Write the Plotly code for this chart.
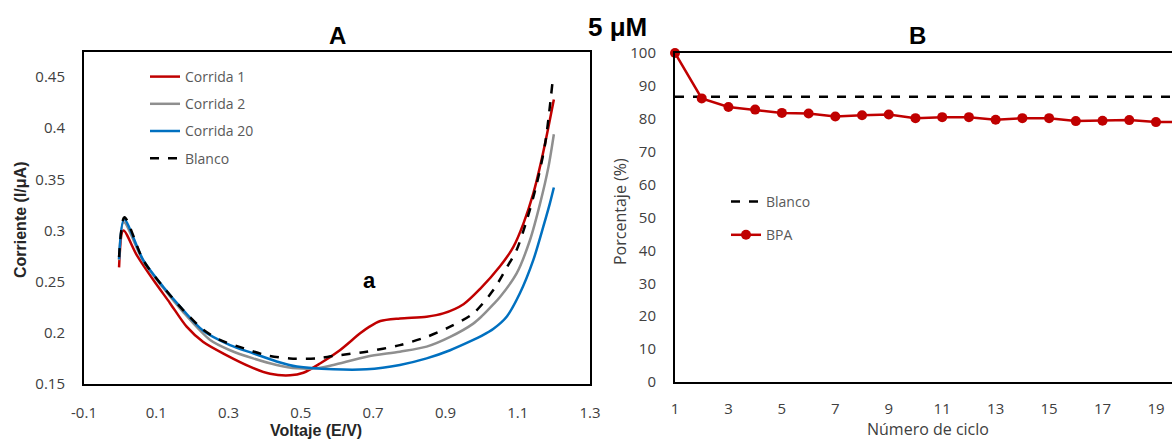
import plotly.graph_objects as go

# ---------------- Panel A data (Voltaje vs Corriente) ----------------
v_corrida1 = [-0.003, 0.009, 0.046, 0.092, 0.138, 0.184, 0.23, 0.295, 0.359, 0.415, 0.47, 0.507,
              0.553, 0.608, 0.664, 0.69, 0.72, 0.774, 0.848, 0.894, 0.95, 0.996, 1.051, 1.088, 1.116,
              1.143, 1.166, 1.185, 1.2]
i_corrida1 = [0.264, 0.300, 0.276, 0.2516, 0.229, 0.206, 0.191, 0.178, 0.167, 0.160, 0.1585, 0.161,
              0.170, 0.183, 0.1995, 0.206, 0.2115, 0.214, 0.2158, 0.219, 0.228, 0.243, 0.265, 0.284, 0.307,
              0.336, 0.369, 0.401, 0.428]

v_corrida2 = [-0.003, 0.010, 0.064, 0.119, 0.175, 0.249, 0.304, 0.368, 0.433, 0.489, 0.544, 0.59,
              0.682, 0.774, 0.848, 0.913, 0.977, 1.0, 1.033, 1.051, 1.097, 1.134, 1.162, 1.185, 1.2]
i_corrida2 = [0.271, 0.308, 0.270, 0.244, 0.220, 0.193, 0.183, 0.175, 0.1686, 0.1653, 0.1653, 0.1686,
              0.1767, 0.1816, 0.1865, 0.196, 0.209, 0.216, 0.228, 0.235, 0.258, 0.2907, 0.3265, 0.362, 0.394]

v_corrida20 = [-0.003, 0.011, 0.064, 0.119, 0.175, 0.23, 0.304, 0.368, 0.433, 0.489, 0.59, 0.682,
               0.774, 0.848, 0.913, 0.977, 1.0, 1.033, 1.07, 1.106, 1.143, 1.171, 1.189, 1.2]
i_corrida20 = [0.272, 0.311, 0.271, 0.245, 0.222, 0.202, 0.188, 0.180, 0.172, 0.167, 0.1643, 0.1643,
               0.1686, 0.175, 0.183, 0.193, 0.197, 0.204, 0.216, 0.2386, 0.271, 0.304, 0.3265, 0.342]

v_blanco = [-0.003, 0.012, 0.064, 0.119, 0.175, 0.23, 0.276, 0.341, 0.406, 0.47, 0.544, 0.59, 0.682,
            0.774, 0.848, 0.913, 0.977, 1.033, 1.07, 1.097, 1.125, 1.153, 1.176, 1.196]
i_blanco = [0.274, 0.313, 0.271, 0.245, 0.222, 0.203, 0.193, 0.185, 0.178, 0.175, 0.175, 0.1774, 0.1816,
            0.188, 0.196, 0.206, 0.219, 0.242, 0.264, 0.281, 0.310, 0.346, 0.385, 0.444]

a_xticks = [-0.1, 0.1, 0.3, 0.5, 0.7, 0.9, 1.1, 1.3]
a_xticklabels = ["-0.1", "0.1", "0.3", "0.5", "0.7", "0.9", "1.1", "1.3"]
a_yticks = [0.15, 0.2, 0.25, 0.3, 0.35, 0.4, 0.45]
a_yticklabels = ["0.15", "0.2", "0.25", "0.3", "0.35", "0.4", "0.45"]

# ---------------- Panel B data (ciclos) ----------------
ciclos = list(range(1, 21))
bpa = [100, 86.2, 83.6, 82.8, 81.8, 81.6, 80.7, 81.1, 81.3, 80.2, 80.5, 80.5, 79.7, 80.2, 80.2,
       79.3, 79.4, 79.6, 79.0, 79.1]
blanco_b = [86.7] * 20
b_xticks = [1, 3, 5, 7, 9, 11, 13, 15, 17, 19]
b_yticks = [0, 10, 20, 30, 40, 50, 60, 70, 80, 90, 100]

W, H = 1172, 441
def px(x):
    return x / W
def py(y):
    return (H - y) / H

TICKFONT = dict(family="Open Sans", size=15, color="#404040")
LEGFONT = dict(family="Open Sans", size=14, color="#595959")
SMOOTH = dict(shape="spline", smoothing=0.8)

fig = go.Figure()

fig.add_trace(go.Scatter(x=v_corrida1, y=i_corrida1, mode="lines", name="Corrida 1",
                         line=dict(color="#C00000", width=2.5, **SMOOTH), legendgroup="c1",
                         xaxis="x", yaxis="y", legend="legend"))
fig.add_trace(go.Scatter(x=v_corrida2, y=i_corrida2, mode="lines", name="Corrida 2",
                         line=dict(color="#8F8F8F", width=2.5, **SMOOTH), legendgroup="c2",
                         xaxis="x", yaxis="y", legend="legend"))
fig.add_trace(go.Scatter(x=v_corrida20, y=i_corrida20, mode="lines", name="Corrida 20",
                         line=dict(color="#0070C0", width=2.5, **SMOOTH), legendgroup="c20",
                         xaxis="x", yaxis="y", legend="legend"))
fig.add_trace(go.Scatter(x=v_blanco, y=i_blanco, mode="lines", name="Blanco",
                         line=dict(color="black", width=2.5, dash="dash", **SMOOTH), legendgroup="bl",
                         xaxis="x", yaxis="y", legend="legend"))

fig.add_trace(go.Scatter(x=ciclos, y=blanco_b, mode="lines", name="Blanco",
                         line=dict(color="black", width=2.5, dash="dash"), legendgroup="bb",
                         xaxis="x2", yaxis="y2", legend="legend2"))
fig.add_trace(go.Scatter(x=ciclos, y=bpa, mode="lines+markers", name="BPA",
                         line=dict(color="#C00000", width=2.5),
                         marker=dict(color="#C00000", size=10, symbol="circle"), legendgroup="bpa",
                         xaxis="x2", yaxis="y2", legend="legend2", cliponaxis=False))

fig.update_layout(
    width=W, height=H,
    margin=dict(l=0, r=0, t=0, b=0, autoexpand=False),
    paper_bgcolor="white", plot_bgcolor="white",
    xaxis=dict(domain=[px(84), px(590)], range=[-0.1, 1.3], tickvals=a_xticks, ticktext=a_xticklabels,
               showgrid=False, zeroline=False, showline=True, linecolor="black", linewidth=2,
               mirror=True, ticks="", tickfont=TICKFONT, ticklabelstandoff=14, anchor="y",
               automargin=False),
    yaxis=dict(domain=[py(384), py(52)], range=[0.15, 0.4744], tickvals=a_yticks, ticktext=a_yticklabels,
               showgrid=False, zeroline=False, showline=True, linecolor="black", linewidth=2,
               mirror=True, ticks="", tickfont=TICKFONT, ticklabelstandoff=14, anchor="x",
               automargin=False),
    xaxis2=dict(domain=[px(675), 1.0], range=[1, 19.6], tickvals=b_xticks,
                showgrid=False, zeroline=False, showline=True, linecolor="black", linewidth=2,
                mirror=True, ticks="", tickfont=TICKFONT, ticklabelstandoff=12, anchor="y2",
                automargin=False),
    yaxis2=dict(domain=[py(382), py(53)], range=[0, 100], tickvals=b_yticks,
                showgrid=False, zeroline=False, showline=True, linecolor="black", linewidth=2,
                mirror=False, ticks="", tickfont=TICKFONT, ticklabelstandoff=14, anchor="x2",
                automargin=False),
    legend=dict(x=px(145), y=py(61), xanchor="left", yanchor="top", font=LEGFONT,
                bgcolor="rgba(0,0,0,0)", tracegroupgap=6, traceorder="grouped"),
    legend2=dict(x=px(726), y=py(186), xanchor="left", yanchor="top", font=LEGFONT,
                 bgcolor="rgba(0,0,0,0)", tracegroupgap=12, traceorder="grouped"),
    showlegend=True,
)

BOLD = "Liberation Sans"
ann = [
    dict(text="<b>A</b>", x=px(337), y=py(36), font=dict(family=BOLD, size=24, color="black")),
    dict(text="<b>B</b>", x=px(917), y=py(36), font=dict(family=BOLD, size=24, color="black")),
    dict(text="<b>5 μM</b>", x=px(617), y=py(27), font=dict(family=BOLD, size=26, color="black")),
    dict(text="<b>a</b>", x=px(369), y=py(280), font=dict(family=BOLD, size=22, color="black")),
    dict(text="<b>Voltaje (E/V)</b>", x=px(316), y=py(430), font=dict(family=BOLD, size=16, color="#262626")),
    dict(text="<b>Corriente (I/μA)</b>", x=px(20), y=py(220), textangle=-90,
         font=dict(family=BOLD, size=16, color="#262626")),
    dict(text="Porcentaje (%)", x=px(620), y=py(212), textangle=-90,
         font=dict(family="Open Sans", size=16, color="#404040")),
    dict(text="Número de ciclo", x=px(928), y=py(429), font=dict(family="Open Sans", size=16, color="#404040")),
]
for a in ann:
    a.update(xref="paper", yref="paper", showarrow=False, xanchor="center", yanchor="middle")
fig.update_layout(annotations=ann)

fig.write_html("out.html")
